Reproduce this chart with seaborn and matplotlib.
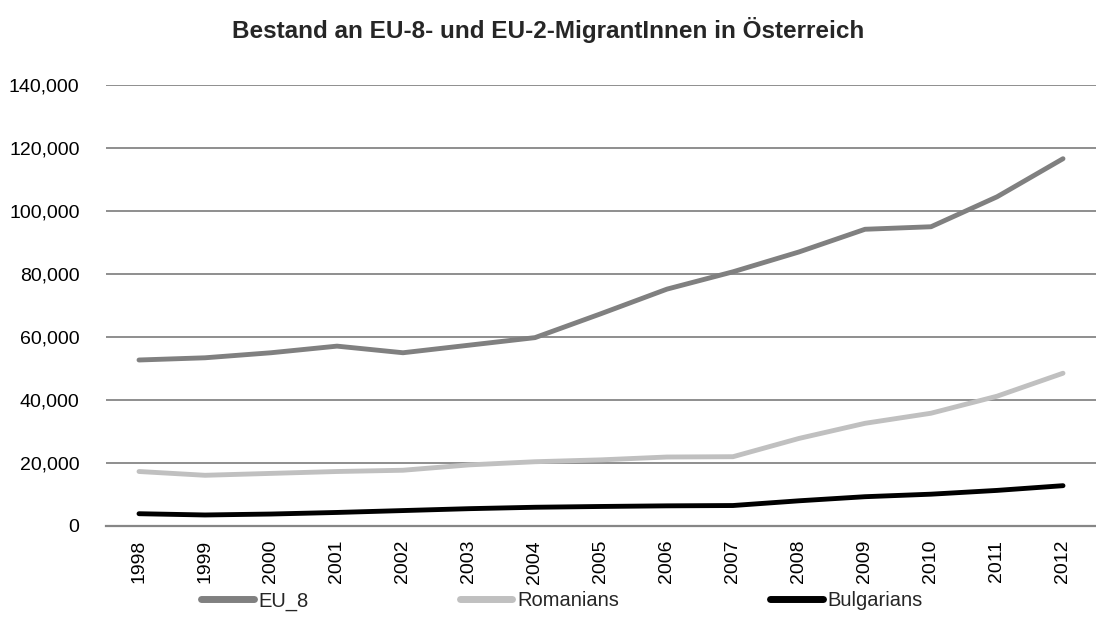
import numpy as np
import pandas as pd
import matplotlib
matplotlib.use("Agg")
import matplotlib.pyplot as plt
import seaborn as sns
from matplotlib.ticker import FuncFormatter

# values
years = list(range(1998, 2013))
eu_8 = [52700, 53400, 55000, 57100, 55000, 57400, 59800, 67400, 75200,
        80700, 87000, 94200, 95000, 104500, 116600]
romanians = [17300, 16100, 16700, 17300, 17700, 19400, 20400, 21000, 21900,
             22000, 27800, 32600, 35800, 41200, 48500]
bulgarians = [3900, 3500, 3800, 4300, 4900, 5500, 5950, 6200, 6400,
              6500, 8000, 9300, 10100, 11300, 12800]
series_names = ["EU_8", "Romanians", "Bulgarians"]
series_colors = ["#808080", "#c0c0c0", "#000000"]
title = "Bestand an EU-8- und EU-2-MigrantInnen in Österreich"

df = pd.DataFrame({"year": years, "EU_8": eu_8, "Romanians": romanians,
                   "Bulgarians": bulgarians})
long_df = df.melt(id_vars="year", var_name="group", value_name="count")

sns.set_style("white")
plt.rcParams['font.family'] = ['Liberation Sans', 'DejaVu Sans']

fig = plt.figure(figsize=(10.96, 6.30), dpi=100)
ax = fig.add_axes([106/1096, 1 - 526/630, 1 - 106/1096, (526 - 85)/630])

sns.lineplot(data=long_df, x="year", y="count", hue="group",
             hue_order=series_names, palette=series_colors,
             linewidth=3.5, ax=ax, legend=False,
             solid_capstyle="round", solid_joinstyle="round")

# gridlines like the excel original
ax.set_ylim(0, 140000)
ax.set_yticks(np.arange(0, 140001, 20000))
ax.yaxis.set_major_formatter(FuncFormatter(lambda v, p: f"{int(v):,}"))
ax.grid(axis="y", color="#868686", linewidth=1.3)
ax.set_axisbelow(True)
ax.set_xlim(1997.5, 2012.5)
ax.set_xticks(years)
ax.set_xticklabels([str(y) for y in years], rotation=90)
for s in ["top", "right", "left"]:
    ax.spines[s].set_visible(False)
ax.spines["bottom"].set_color("#868686")
ax.spines["bottom"].set_linewidth(1.6)
ax.tick_params(axis="both", length=0, labelsize=14, colors="black")
ax.tick_params(axis="y", pad=19)
ax.tick_params(axis="x", pad=10)
ax.set_xlabel("")
ax.set_ylabel("")

fig.text(0.5, 1 - 30/630, title, ha="center", va="center",
         fontsize=17.5, fontweight="bold")

handles = [plt.Line2D([0], [0], color=c, linewidth=5, solid_capstyle="round")
           for c in series_colors]
fig.legend(handles, series_names, loc="center", ncol=3,
           bbox_to_anchor=(562/1096, 1 - 601/630), frameon=False,
           fontsize=14.5, handlelength=2.6, handletextpad=0.25,
           columnspacing=7.5)

fig.savefig("out.png", dpi=100)
